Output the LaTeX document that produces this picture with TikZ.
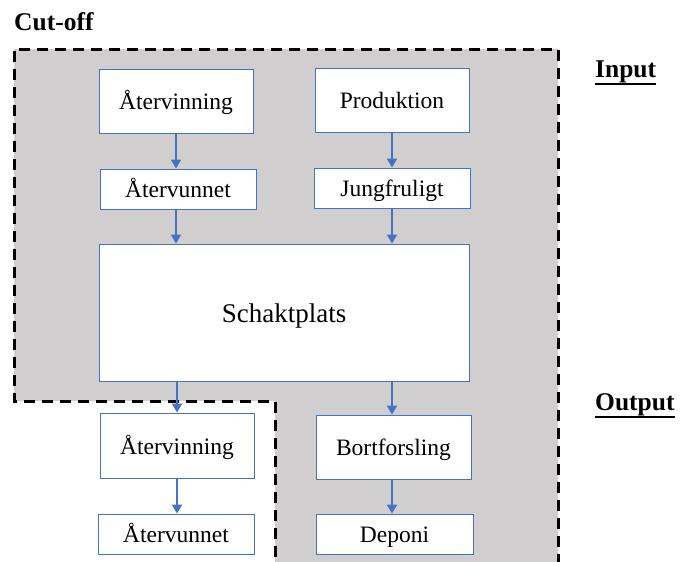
\documentclass[tikz,border=0pt]{standalone}
\usepackage{fontspec}
\setmainfont{Liberation Serif}
\usetikzlibrary{arrows.meta}
\definecolor{zonegray}{HTML}{D0CECE}
\definecolor{flowblue}{HTML}{4472C4}
% heading underline: a rule a little below the baseline
\newcommand\headul[1]{\setbox0\hbox{#1}\leavevmode
  \rlap{\vrule height -5.75pt depth 8.25pt width \wd0}\box0}
\tikzset{
  stepbox/.style={draw=flowblue, line width=0.9pt, fill=white, inner sep=0pt,
    font=\fontsize{23.5}{26}\selectfont, text height=22pt, text depth=5pt},
  flow/.style={draw=flowblue, line width=1.9pt,
    -{Triangle[width=10pt,length=9pt]}},
  heading/.style={font=\fontsize{25.5}{28}\selectfont\bfseries, inner sep=0pt},
  cutline/.style={draw=black, line width=3pt, dash pattern=on 11pt off 7pt}
}
\begin{document}
\begin{tikzpicture}[x=1pt,y=-1pt]
\useasboundingbox (0,0) rectangle (680,562);
\begin{scope}
  \clip (0,0) rectangle (680,562);
  % system boundary (cut-off zone)
  \path[fill=zonegray] (14,49) -- (558,49) -- (558,575) -- (275,575)
    -- (275,401) -- (14,401) -- cycle;
  \draw[cutline] (275,575) -- (275,401) -- (14,401) -- (14,49)
    -- (558,49) -- (558,575);
\end{scope}

% headings
\node[heading, anchor=base west] (cut) at (14,30) {Cut-off};
\node[heading, anchor=base west] (inp) at (595,77) {\headul{Input}};
\node[heading, anchor=base west] (outp) at (595,410) {\headul{Output}};

% process boxes
\node[stepbox, minimum width=154pt, minimum height=64pt] (rec1) at (176,101) {Återvinning};
\node[stepbox, minimum width=156pt, minimum height=40pt] (rec1b) at (178,189) {Återvunnet};
\node[stepbox, minimum width=154pt, minimum height=64pt] (prod) at (392,100) {Produktion};
\node[stepbox, minimum width=156pt, minimum height=40pt] (jung) at (392,188) {Jungfruligt};
\node[stepbox, minimum width=370pt, minimum height=137pt,
      font=\fontsize{27}{30}\selectfont, text height=24pt] (schakt) at (284,312.5) {Schaktplats};
\node[stepbox, minimum width=154pt, minimum height=65pt] (rec2) at (177,445.5) {Återvinning};
\node[stepbox, minimum width=156pt, minimum height=40pt] (rec2b) at (176,534) {Återvunnet};
\node[stepbox, minimum width=155pt, minimum height=64pt] (bort) at (393.5,447) {Bortforsling};
\node[stepbox, minimum width=157pt, minimum height=40pt] (dep) at (394.5,534) {Deponi};

% flows
\draw[flow] (rec1.south) -- (rec1.south |- rec1b.north);
\draw[flow] (rec1.south |- rec1b.south) -- (rec1.south |- schakt.north);
\draw[flow] (prod.south) -- (prod.south |- jung.north);
\draw[flow] (jung.south) -- (jung.south |- schakt.north);
\draw[flow] (rec2.north |- schakt.south) -- (rec2.north);
\draw[flow] (rec2.south) -- (rec2.south |- rec2b.north);
\draw[flow] (prod.south |- schakt.south) -- (prod.south |- bort.north);
\draw[flow] (prod.south |- bort.south) -- (prod.south |- dep.north);
\end{tikzpicture}
\end{document}
